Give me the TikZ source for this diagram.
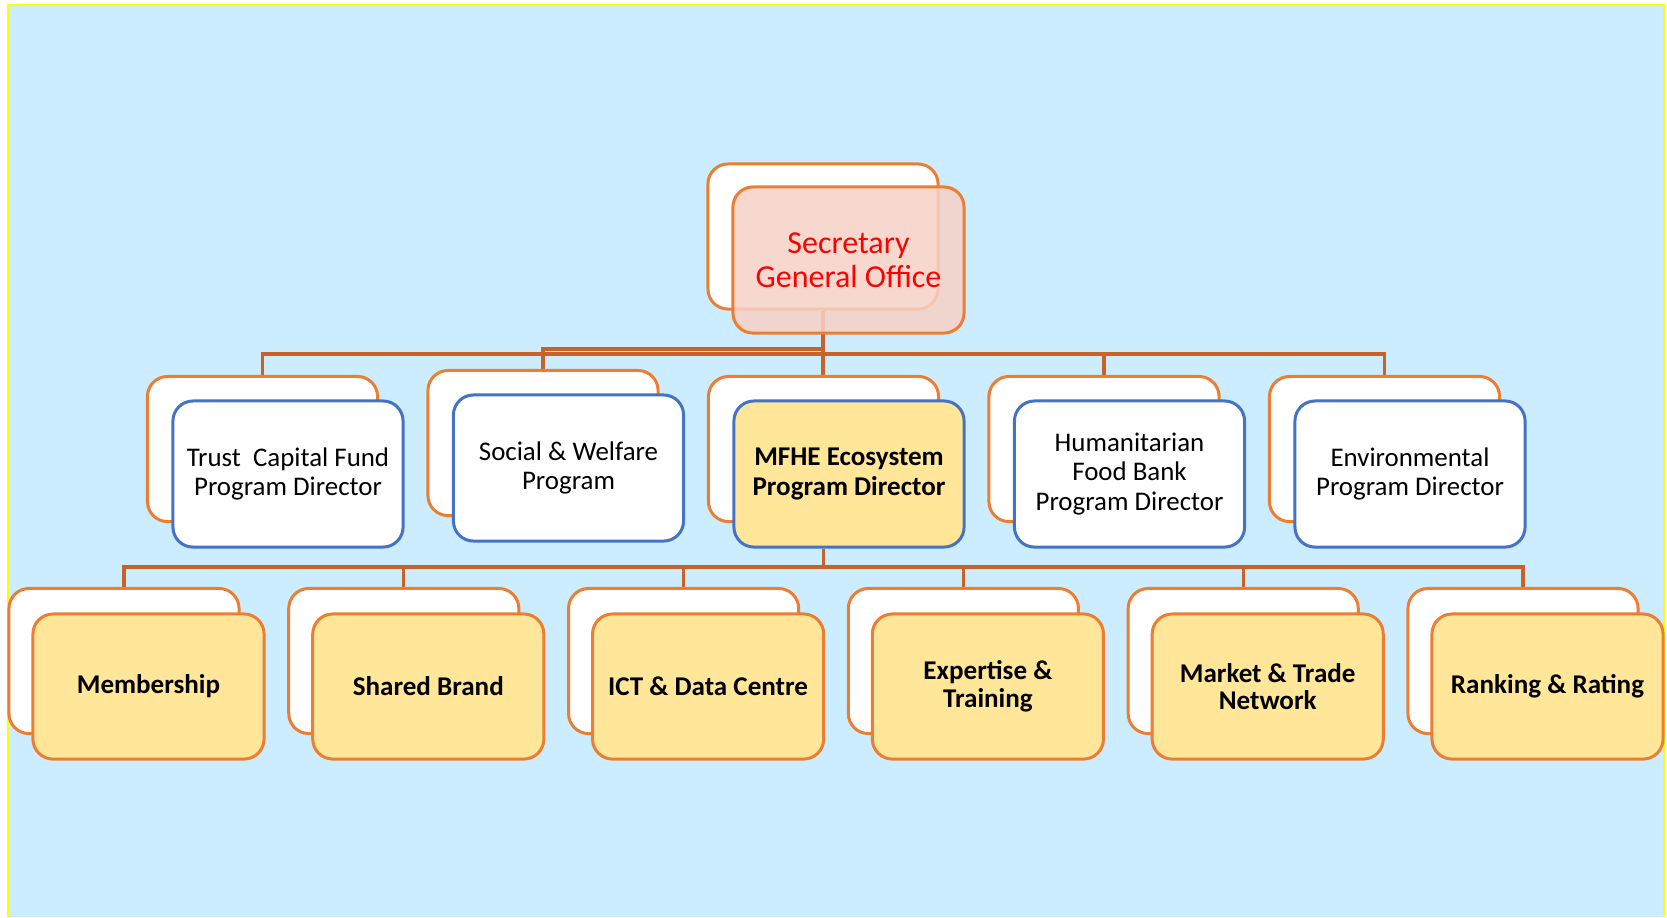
\documentclass[tikz,border=0pt]{standalone}
\usepackage{fontspec}
\setmainfont{Carlito}
\pgfdeclarelayer{bg}
\pgfdeclarelayer{lines}
\pgfsetlayers{bg,lines,main}
\definecolor{skyfill}{RGB}{204,236,255}
\definecolor{frameyel}{RGB}{255,255,0}
\definecolor{boxorange}{RGB}{237,125,49}
\definecolor{connorange}{RGB}{200,98,38}
\definecolor{boxblue}{RGB}{68,114,196}
\definecolor{boxyellow}{RGB}{255,230,153}
\definecolor{boxpink}{RGB}{246,210,198}
\definecolor{txtred}{RGB}{255,0,0}
\tikzset{
  backbox/.style={draw=boxorange, fill=white, rounded corners=0.2cm, line width=0.85pt,
    minimum width=2.3cm, minimum height=1.45cm, inner sep=0pt},
  topfront/.style={draw=boxorange, fill=boxpink, fill opacity=0.85, text opacity=1, rounded corners=0.2cm, line width=0.85pt,
    minimum width=2.31cm, minimum height=1.46cm, inner sep=0pt, align=center, text=txtred,
    font=\fontsize{9.1}{9.7}\selectfont},
  progfront/.style={draw=boxblue, fill=white, rounded corners=0.2cm, line width=0.85pt,
    minimum width=2.3cm, minimum height=1.46cm, inner sep=0pt, align=center,
    font=\fontsize{7.65}{8.3}\selectfont},
  mainfront/.style={progfront, fill=boxyellow, font=\fontsize{7.7}{8.3}\selectfont\bfseries},
  unitfront/.style={draw=boxorange, fill=boxyellow, rounded corners=0.2cm, line width=0.85pt,
    minimum width=2.31cm, minimum height=1.45cm, inner sep=0pt, align=center,
    font=\fontsize{7.7}{7.9}\selectfont\bfseries},
  conn/.style={draw=connorange, line width=0.9pt}
}
\begin{document}
\begin{tikzpicture}[x=0.01cm, y=-0.01cm]
\useasboundingbox (0,0) rectangle (1667,917);
\begin{pgfonlayer}{bg}
  \fill[skyfill] (8,5) rectangle (1664,917);
  \draw[frameyel, line width=0.6pt] (8,917) -- (8,5) -- (1664,5) -- (1664,917);
\end{pgfonlayer}

% top
\node[backbox] (topb) at (823,236.5) {};
\node[topfront] (topf) at (848.5,260) {Secretary\\General Office};

% row 2
\node[backbox] (trustb) at (262.5,449) {};
\node[progfront] (trustf) at (288,474) {Trust~~Capital Fund\\Program Director};
\node[backbox] (socb) at (543,443) {};
\node[progfront] (socf) at (568.5,468) {Social \& Welfare\\Program};
\node[backbox] (mfheb) at (823.5,449) {};
\node[mainfront] (mfhef) at (849,474) {MFHE Ecosystem\\Program Director};
\node[backbox] (humb) at (1104,449) {};
\node[progfront] (humf) at (1129.5,474) {Humanitarian\\Food Bank\\Program Director};
\node[backbox] (envb) at (1384.5,449) {};
\node[progfront] (envf) at (1410,474) {Environmental\\Program Director};

% row 3
\node[backbox] (u1b) at (124,661) {};
\node[unitfront] (u1f) at (148.5,686.5) {Membership};
\node[backbox] (u2b) at (403.8,661) {};
\node[unitfront] (u2f) at (428.3,686.5) {Shared Brand};
\node[backbox] (u3b) at (683.6,661) {};
\node[unitfront] (u3f) at (708.1,686.5) {ICT \& Data Centre};
\node[backbox] (u4b) at (963.4,661) {};
\node[unitfront] (u4f) at (987.9,686.5) {Expertise \&\\Training};
\node[backbox] (u5b) at (1243.2,661) {};
\node[unitfront] (u5f) at (1267.7,686.5) {Market \& Trade\\Network};
\node[backbox] (u6b) at (1523,661) {};
\node[unitfront] (u6f) at (1547.5,686.5) {Ranking \& Rating};

\coordinate (h1) at (0,349);
\coordinate (h2) at (0,354);
\coordinate (h3) at (0,567);

\begin{pgfonlayer}{lines}
  \draw[conn] (topb.south) -- (mfhef.north -| topb.south);
  \draw[conn] (socb.north) |- (topb.south |- h1);
  \draw[conn] (trustb.north) -- (trustb.north |- h2) -- (envb.north |- h2) -- (envb.north);
  \draw[conn] (humb.north) -- (humb.north |- h2);
  \draw[conn] (mfheb.north) -- (mfheb.north |- h2);
  \draw[conn] (mfhef.south -| mfheb.north) -- (mfheb.north |- h3);
  \draw[conn] (u1b.north) -- (u1b.north |- h3) -- (u6b.north |- h3) -- (u6b.north);
  \draw[conn] (u2b.north) -- (u2b.north |- h3);
  \draw[conn] (u3b.north) -- (u3b.north |- h3);
  \draw[conn] (u4b.north) -- (u4b.north |- h3);
  \draw[conn] (u5b.north) -- (u5b.north |- h3);
\end{pgfonlayer}
\end{tikzpicture}
\end{document}
